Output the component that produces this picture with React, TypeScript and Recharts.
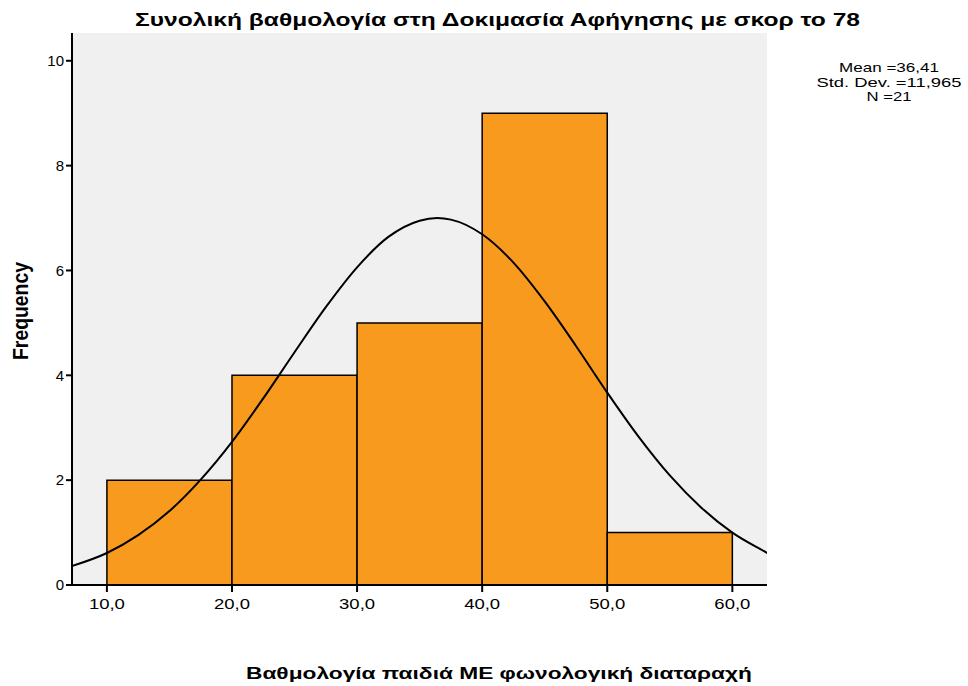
import {
  ComposedChart,
  Line,
  XAxis,
  YAxis,
  CartesianGrid,
  ReferenceArea,
} from "recharts";

// histogram bins (score ranges) and their counts
const binStarts = [10, 20, 30, 40, 50];
const binEnds = [20, 30, 40, 50, 60];
const binCounts = [2, 4, 5, 9, 1];

// normal curve
const curveX = [7.2, 10, 12.5, 15, 17.5, 20, 22.5, 25, 27.5, 30, 32.5, 35, 36.4, 37.5, 40, 42.5, 45, 47.5, 50, 52.5, 55, 57.5, 60, 62.5, 62.8];
const curveY = [0.36, 0.61, 0.95, 1.41, 2.01, 2.73, 3.56, 4.44, 5.3, 6.06, 6.64, 6.95, 7.0, 6.97, 6.69, 6.15, 5.41, 4.56, 3.67, 2.83, 2.09, 1.48, 1.0, 0.65, 0.61];

const xTicks = [10, 20, 30, 40, 50, 60];
const yTicks = [0, 2, 4, 6, 8, 10];

const title = "Συνολική βαθμολογία στη Δοκιμασία Αφήγησης με σκορ το 78";
const xLabel = "Βαθμολογία παιδιά ΜΕ φωνολογική διαταραχή";
const yLabel = "Frequency";
const statLines = ["Mean =36,41", "Std. Dev. =11,965", "N =21"];

const FONT = "'Liberation Sans', Arial, sans-serif";
const ORANGE = "#F89A1E";

function XTick(props: any) {
  const { x, y, payload } = props;
  const label = Number(payload.value).toFixed(1).replace(".", ",");
  return (
    <text
      x={x}
      y={y + 15}
      textAnchor="middle"
      fontSize={15}
      fontFamily={FONT}
      fill="#000"
      textLength={36}
      lengthAdjust="spacingAndGlyphs"
    >
      {label}
    </text>
  );
}

export default function App() {
  const curve = curveX.map((x, i) => ({ x, y: curveY[i] }));
  const statWidths = [100, 145, 45];

  return (
    <div style={{ position: "absolute", left: 0, top: 0, width: 968, height: 686, background: "#fff" }}>
      <ComposedChart
        width={968}
        height={686}
        data={curve}
        margin={{ top: 33, right: 201, left: 32, bottom: 71 }}
      >
        <CartesianGrid fill="#F0F0F0" horizontal={false} vertical={false} />
        <XAxis
          xAxisId="top"
          orientation="top"
          type="number"
          dataKey="x"
          domain={[7.21, 62.77]}
          allowDataOverflow
          tick={false}
          tickLine={false}
          height={0}
          axisLine={{ stroke: "#222", strokeWidth: 1.5 }}
        />
        <YAxis
          yAxisId="right"
          orientation="right"
          domain={[0, 10.53]}
          tick={false}
          tickLine={false}
          width={0}
          axisLine={{ stroke: "#222", strokeWidth: 1.5 }}
        />
        <XAxis
          type="number"
          dataKey="x"
          domain={[7.21, 62.77]}
          allowDataOverflow
          ticks={xTicks}
          tick={<XTick />}
          tickSize={7}
          tickLine={{ stroke: "#000", strokeWidth: 2 }}
          axisLine={{ stroke: "#000", strokeWidth: 2 }}
          height={30}
        />
        <YAxis
          domain={[0, 10.53]}
          allowDataOverflow
          ticks={yTicks}
          tick={{ fill: "#000", fontSize: 15, fontFamily: FONT }}
          tickSize={6}
          tickLine={{ stroke: "#000", strokeWidth: 2 }}
          axisLine={{ stroke: "#000", strokeWidth: 2 }}
          width={40}
        />
        {binStarts.map((lo, i) => (
          <ReferenceArea
            key={lo}
            x1={lo}
            x2={binEnds[i]}
            y1={0}
            y2={binCounts[i]}
            fill={ORANGE}
            fillOpacity={1}
            stroke="#000"
            strokeWidth={1.5}
            strokeOpacity={1}
          />
        ))}
        <Line
          type="monotone"
          dataKey="y"
          stroke="#000"
          strokeWidth={2}
          dot={false}
          activeDot={false}
          isAnimationActive={false}
        />
      </ComposedChart>
      <svg
        width={968}
        height={686}
        style={{ position: "absolute", left: 0, top: 0, pointerEvents: "none" }}
        fontFamily={FONT}
      >
        <text x={497.5} y={26} textAnchor="middle" fontSize={18} fontWeight="bold" textLength={725} lengthAdjust="spacingAndGlyphs">
          {title}
        </text>
        <text x={499} y={679} textAnchor="middle" fontSize={17} fontWeight="bold" textLength={506} lengthAdjust="spacingAndGlyphs">
          {xLabel}
        </text>
        <text
          transform="translate(28,311) rotate(-90)"
          textAnchor="middle"
          fontSize={22}
          fontWeight="bold"
          textLength={98}
          lengthAdjust="spacingAndGlyphs"
        >
          {yLabel}
        </text>
        {statLines.map((s, i) => (
          <text
            key={s}
            x={889}
            y={72 + i * 14.5}
            textAnchor="middle"
            fontSize={13.5}
            textLength={statWidths[i]}
            lengthAdjust="spacingAndGlyphs"
          >
            {s}
          </text>
        ))}
      </svg>
    </div>
  );
}
